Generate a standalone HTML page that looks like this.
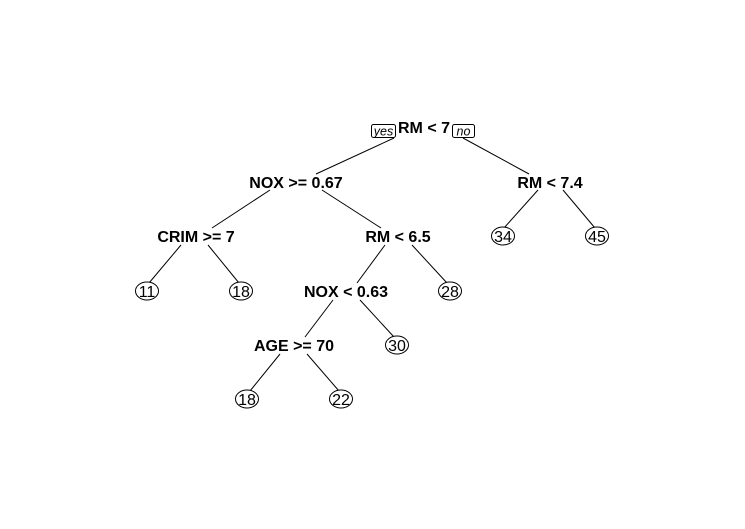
<!DOCTYPE html>
<html><head><style>body{margin:0;background:#fff}svg{display:block}</style></head><body>
<svg width="745" height="529" viewBox="0 0 745 529" xmlns="http://www.w3.org/2000/svg" font-family="Liberation Sans, Arial, sans-serif">
<g stroke="#000" stroke-width="1" fill="none">
<line x1="394" y1="138" x2="316" y2="174"/>
<line x1="463" y1="138" x2="529" y2="174"/>
<line x1="270" y1="190" x2="212" y2="228"/>
<line x1="322" y1="190" x2="381" y2="228"/>
<line x1="538" y1="190" x2="504" y2="228"/>
<line x1="563" y1="190" x2="595" y2="228"/>
<line x1="181" y1="245" x2="149" y2="283"/>
<line x1="208" y1="245" x2="239" y2="283"/>
<line x1="385" y1="245" x2="357" y2="283"/>
<line x1="412" y1="245" x2="447" y2="283"/>
<line x1="333" y1="300" x2="305" y2="337"/>
<line x1="360" y1="300" x2="394" y2="337"/>
<line x1="280" y1="354" x2="250" y2="391"/>
<line x1="307" y1="354" x2="339" y2="391"/>
<rect x="371.5" y="124.5" width="24" height="13" rx="2" fill="#fff"/>
<rect x="452.5" y="124.5" width="22" height="13" rx="2" fill="#fff"/>
<ellipse cx="147" cy="291" rx="11.5" ry="9" fill="#fff"/>
<ellipse cx="241" cy="291" rx="11.5" ry="9" fill="#fff"/>
<ellipse cx="503" cy="236" rx="11.5" ry="9" fill="#fff"/>
<ellipse cx="597" cy="236" rx="11.5" ry="9" fill="#fff"/>
<ellipse cx="450" cy="291" rx="11.5" ry="9" fill="#fff"/>
<ellipse cx="397" cy="345" rx="11.5" ry="9" fill="#fff"/>
<ellipse cx="247" cy="399" rx="11.5" ry="9" fill="#fff"/>
<ellipse cx="341" cy="399" rx="11.5" ry="9" fill="#fff"/>
</g>
<g text-anchor="middle" font-size="12.5" font-style="italic">
<text x="383.5" y="135.5">yes</text>
<text x="463.5" y="135.5">no</text>
</g>
<g text-anchor="middle" font-size="16" font-weight="bold">
<text x="424" y="133">RM &lt; 7</text>
<text x="296" y="188">NOX &gt;= 0.67</text>
<text x="550" y="188">RM &lt; 7.4</text>
<text x="196" y="242">CRIM &gt;= 7</text>
<text x="398" y="242">RM &lt; 6.5</text>
<text x="346" y="297">NOX &lt; 0.63</text>
<text x="294" y="351">AGE &gt;= 70</text>
</g>
<g text-anchor="middle" font-size="16">
<text x="147" y="297">11</text>
<text x="241" y="297">18</text>
<text x="503" y="242">34</text>
<text x="597" y="242">45</text>
<text x="450" y="297">28</text>
<text x="397" y="351">30</text>
<text x="247" y="405">18</text>
<text x="341" y="405">22</text>
</g>
</svg>
</body></html>
